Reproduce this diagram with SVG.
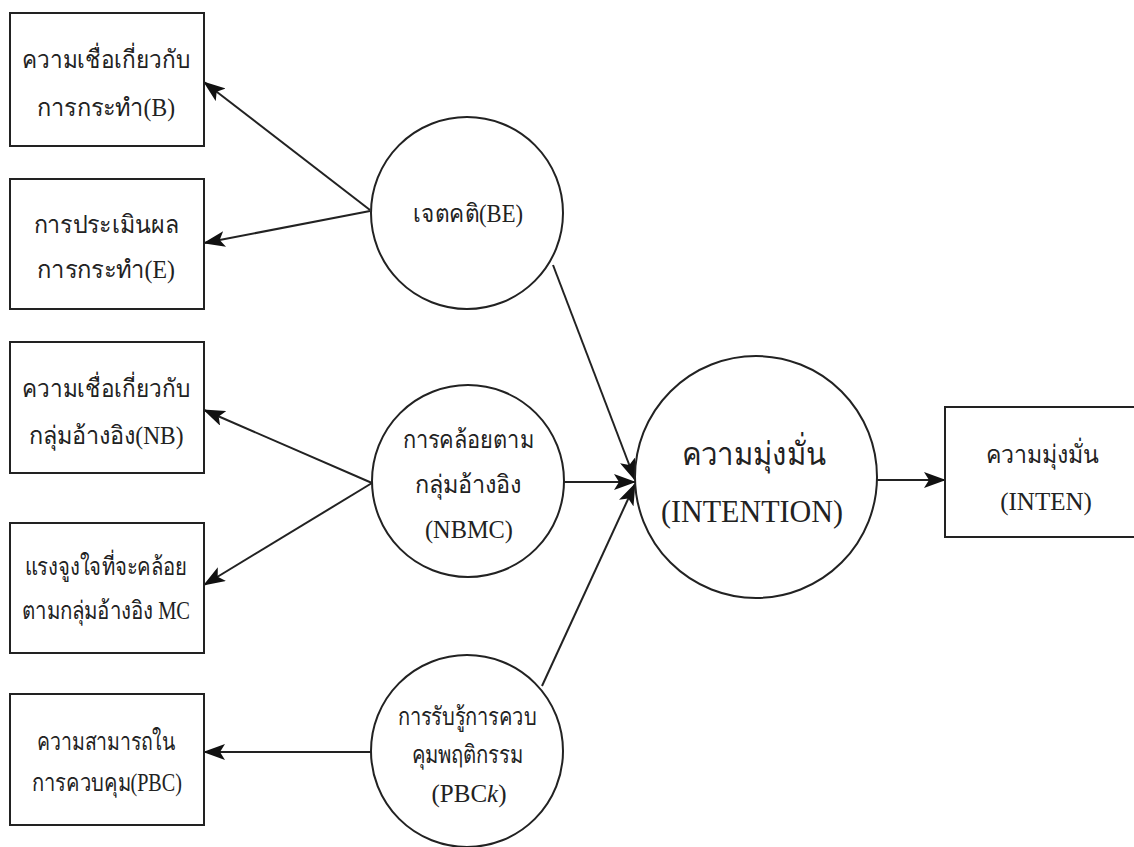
<svg xmlns="http://www.w3.org/2000/svg" width="1134" height="847" viewBox="0 0 1134 847">
<style>
.box{fill:#fff;stroke:#222;stroke-width:2}
.cir{fill:#fff;stroke:#222;stroke-width:2}
.t{font-family:"Liberation Serif","DejaVu Serif",serif;font-size:25px;fill:#222;text-anchor:middle}
.tb{font-family:"Liberation Serif","DejaVu Serif",serif;font-size:32px;fill:#222;text-anchor:middle}
.c{stroke:#222;stroke-width:2;fill:none;marker-end:url(#ah)}
</style>
<defs>
<marker id="ah" viewBox="0 0 22 16" refX="21" refY="8" markerWidth="22" markerHeight="16" markerUnits="userSpaceOnUse" orient="auto">
<path d="M0,0 L22,8 L0,16 L5,8 Z" fill="#111"/>
</marker>
</defs>
<rect width="1134" height="847" fill="#fff"/>
<g id="connectors">
<line class="c" x1="370" y1="210" x2="204" y2="82"/>
<line class="c" x1="370" y1="211" x2="204" y2="243"/>
<line class="c" x1="372" y1="483" x2="204" y2="410"/>
<line class="c" x1="372" y1="483" x2="204" y2="585"/>
<line class="c" x1="372" y1="752" x2="204" y2="752"/>
<line class="c" x1="553" y1="265" x2="635" y2="480"/>
<line class="c" x1="564" y1="482" x2="635" y2="482"/>
<line class="c" x1="542" y1="686" x2="635" y2="484"/>
<line class="c" x1="877" y1="480" x2="945" y2="480"/>
</g>
<g id="box-b">
<rect class="box" x="10" y="13" width="194" height="133"/>
<text class="t" x="106" y="68" textLength="168" lengthAdjust="spacingAndGlyphs">ความเชื่อเกี่ยวกับ</text>
<text class="t" x="106" y="116" textLength="138" lengthAdjust="spacingAndGlyphs">การกระทำ(B)</text>
</g>
<g id="box-e">
<rect class="box" x="10" y="179" width="194" height="130"/>
<text class="t" x="106" y="233" textLength="145" lengthAdjust="spacingAndGlyphs">การประเมินผล</text>
<text class="t" x="106" y="278" textLength="138" lengthAdjust="spacingAndGlyphs">การกระทำ(E)</text>
</g>
<g id="box-nb">
<rect class="box" x="10" y="342" width="194" height="131"/>
<text class="t" x="106" y="397" textLength="168" lengthAdjust="spacingAndGlyphs">ความเชื่อเกี่ยวกับ</text>
<text class="t" x="106" y="444" textLength="155" lengthAdjust="spacingAndGlyphs">กลุ่มอ้างอิง(NB)</text>
</g>
<g id="box-mc">
<rect class="box" x="10" y="523" width="194" height="130"/>
<text class="t" x="106" y="575" textLength="163" lengthAdjust="spacingAndGlyphs">แรงจูงใจที่จะคล้อย</text>
<text class="t" x="106" y="619" textLength="168" lengthAdjust="spacingAndGlyphs">ตามกลุ่มอ้างอิง MC</text>
</g>
<g id="box-pbc">
<rect class="box" x="10" y="694" width="194" height="131"/>
<text class="t" x="106" y="750" textLength="138" lengthAdjust="spacingAndGlyphs">ความสามารถใน</text>
<text class="t" x="107" y="791" textLength="150" lengthAdjust="spacingAndGlyphs">การควบคุม(PBC)</text>
</g>
<g id="circle-be">
<circle class="cir" cx="467" cy="213" r="96"/>
<text class="t" x="468" y="222" textLength="110" lengthAdjust="spacingAndGlyphs">เจตคติ(BE)</text>
</g>
<g id="circle-nbmc">
<circle class="cir" cx="468" cy="481" r="96"/>
<text class="t" x="468" y="448" textLength="131" lengthAdjust="spacingAndGlyphs">การคล้อยตาม</text>
<text class="t" x="468" y="493" textLength="107" lengthAdjust="spacingAndGlyphs">กลุ่มอ้างอิง</text>
<text class="t" x="469" y="538" textLength="88" lengthAdjust="spacingAndGlyphs">(NBMC)</text>
</g>
<g id="circle-pbck">
<circle class="cir" cx="467" cy="751" r="96"/>
<text class="t" x="467" y="725" textLength="139" lengthAdjust="spacingAndGlyphs">การรับรู้การควบ</text>
<text class="t" x="467" y="763" textLength="111" lengthAdjust="spacingAndGlyphs">คุมพฤติกรรม</text>
<text class="t" x="469" y="802">(PBC<tspan font-style="italic">k</tspan>)</text>
</g>
<g id="circle-intention">
<circle class="cir" cx="756" cy="477" r="121"/>
<text class="tb" x="754" y="465" textLength="145" lengthAdjust="spacingAndGlyphs">ความมุ่งมั่น</text>
<text class="tb" x="752" y="522" textLength="182" lengthAdjust="spacingAndGlyphs">(INTENTION)</text>
</g>
<g id="box-inten">
<rect class="box" x="945" y="407" width="200" height="130"/>
<text class="t" x="1042" y="463" textLength="113" lengthAdjust="spacingAndGlyphs">ความมุ่งมั่น</text>
<text class="t" x="1046" y="510">(INTEN)</text>
</g>
</svg>
